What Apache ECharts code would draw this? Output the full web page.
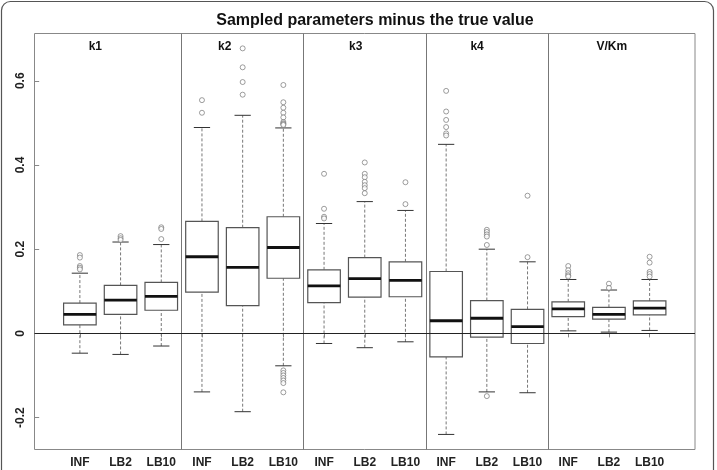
<!DOCTYPE html>
<html><head><meta charset="utf-8">
<script src="https://cdn.jsdelivr.net/npm/echarts@6/dist/echarts.min.js"></script>
<style>html,body{margin:0;padding:0;background:#fff}#c{width:717px;height:470px}</style>
</head><body><div id="c"></div>
<script>
const groups = ['k1', 'k2', 'k3', 'k4', 'V/Km'];
const methods = ['INF', 'LB2', 'LB10'];
const yTicks = [-0.2, 0, 0.2, 0.4, 0.6];
const lowWhisker  = [-0.047, -0.050, -0.030, -0.139, -0.186, -0.077, -0.024, -0.034, -0.020, -0.240, -0.139, -0.141, 0.006, 0.003, 0.007];
const q1          = [ 0.020,  0.045,  0.055,  0.098,  0.066,  0.131,  0.073,  0.086,  0.087, -0.056, -0.009, -0.024, 0.040, 0.034, 0.044];
const median      = [ 0.045,  0.079,  0.088,  0.182,  0.157,  0.204,  0.113,  0.130,  0.126,  0.030,  0.036,  0.016, 0.058, 0.045, 0.060];
const q3          = [ 0.072,  0.114,  0.121,  0.266,  0.251,  0.277,  0.151,  0.180,  0.170,  0.147,  0.078,  0.057, 0.075, 0.062, 0.077];
const highWhisker = [ 0.143,  0.217,  0.211,  0.489,  0.518,  0.488,  0.261,  0.313,  0.292,  0.449,  0.200,  0.170, 0.128, 0.103, 0.128];
const outliers = [
  [0.186, 0.180, 0.160, 0.156, 0.152],
  [0.231, 0.226, 0.222],
  [0.252, 0.248, 0.224],
  [0.554, 0.524],
  [0.677, 0.632, 0.597, 0.567],
  [0.590, 0.549, 0.536, 0.524, 0.513, 0.502, 0.499, 0.497, 0.495, -0.088, -0.094, -0.100, -0.106, -0.112, -0.118, -0.140],
  [0.379, 0.296, 0.277, 0.273],
  [0.406, 0.379, 0.371, 0.360, 0.352, 0.345, 0.333],
  [0.359, 0.307],
  [0.576, 0.527, 0.507, 0.490, 0.475, 0.470],
  [0.246, 0.241, 0.235, 0.230, 0.210, -0.149],
  [0.327, 0.181],
  [0.160, 0.150, 0.143, 0.138, 0.135],
  [0.118, 0.108],
  [0.182, 0.168, 0.146, 0.141, 0.135]
];

const FONT = 'Liberation Sans, Arial, sans-serif';
const positions = median.map((_, i) => i + 1);
const boxData = positions.map((p, i) => [p, lowWhisker[i], q1[i], median[i], q3[i], highWhisker[i]]);
const outlierData = [];
outliers.forEach((arr, i) => arr.forEach(v => outlierData.push([i + 1, v])));
const groupLabelX = [1.38, 4.56, 7.78, 10.76, 14.07];
const groupLabelData = groups.map((g, i) => [groupLabelX[i], 0.680, g]);
const separators = [3.5, 6.5, 9.5, 12.5];

const chart = echarts.init(document.getElementById('c'), null, {renderer: 'canvas'});
chart.setOption({
  animation: false,
  backgroundColor: '#fff',
  graphic: [
    {type: 'rect', shape: {x: 1.5, y: 1.5, width: 712, height: 490, r: 9}, style: {fill: 'none', stroke: '#555', lineWidth: 1.2}, z: 100},
    {type: 'text', x: 375, y: 21, style: {text: 'Sampled parameters minus the true value', font: 'bold 16px ' + FONT, fill: '#111', textAlign: 'center', textVerticalAlign: 'middle'}, z: 100}
  ],
  grid: {left: 34.5, right: 22, top: 33.5, bottom: 20.5, show: true, borderColor: '#888', borderWidth: 1, backgroundColor: '#fff'},
  xAxis: {
    type: 'value', min: -0.115, max: 16.115,
    axisLine: {show: false}, splitLine: {show: false},
    axisTick: {show: true, customValues: positions, length: 4, lineStyle: {color: '#888'}},
    axisLabel: {customValues: positions, formatter: v => methods[(Math.round(v) - 1) % 3], fontWeight: 'bold', fontSize: 12, fontFamily: FONT, color: '#222', margin: 7}
  },
  yAxis: {
    type: 'value', min: -0.2758, max: 0.7123,
    axisLine: {show: false}, splitLine: {show: false},
    axisTick: {show: true, customValues: yTicks, length: 5, lineStyle: {color: '#888'}},
    axisLabel: {customValues: yTicks, rotate: 90, formatter: v => (Math.abs(v) < 1e-9 ? '0' : String(Math.round(v * 10) / 10)), fontWeight: 'bold', fontSize: 12, fontFamily: FONT, color: '#222', margin: 8}
  },
  series: [
    {
      type: 'custom', name: 'box',
      encode: {x: 0, y: [1, 2, 3, 4, 5]},
      data: boxData,
      renderItem: function (params, api) {
        const x = api.value(0);
        const lo = api.coord([x, api.value(1)]);
        const a = api.coord([x, api.value(2)]);
        const m = api.coord([x, api.value(3)]);
        const b = api.coord([x, api.value(4)]);
        const hi = api.coord([x, api.value(5)]);
        const half = api.size([0.8, 0])[0] / 2;
        const cap = api.size([0.4, 0])[0] / 2;
        const cx = lo[0];
        const dash = {stroke: '#777', lineWidth: 1, lineDash: [3, 2]};
        const solid = {stroke: '#333', lineWidth: 1};
        return {type: 'group', children: [
          {type: 'line', shape: {x1: cx, y1: lo[1], x2: cx, y2: a[1]}, style: dash},
          {type: 'line', shape: {x1: cx, y1: b[1], x2: cx, y2: hi[1]}, style: dash},
          {type: 'line', shape: {x1: cx - cap, y1: lo[1], x2: cx + cap, y2: lo[1]}, style: solid},
          {type: 'line', shape: {x1: cx - cap, y1: hi[1], x2: cx + cap, y2: hi[1]}, style: solid},
          {type: 'rect', shape: {x: cx - half, y: b[1], width: half * 2, height: a[1] - b[1]}, style: {fill: '#fff', stroke: '#555', lineWidth: 1.2}},
          {type: 'line', shape: {x1: cx - half, y1: m[1], x2: cx + half, y2: m[1]}, style: {stroke: '#111', lineWidth: 2.8}}
        ]};
      }
    },
    {
      type: 'scatter', name: 'outliers',
      data: outlierData,
      symbol: 'circle', symbolSize: 5,
      itemStyle: {color: '#fff', borderColor: '#666', borderWidth: 0.8},
      markLine: {
        silent: true, symbol: ['none', 'none'], label: {show: false},
        lineStyle: {type: 'solid', color: '#777', width: 1},
        data: separators.map(s => ({xAxis: s})).concat([{yAxis: 0, lineStyle: {color: '#222', width: 1, type: 'solid'}}])
      }
    },
    {
      type: 'scatter', name: 'groups',
      data: groupLabelData, symbolSize: 0, silent: true,
      label: {show: true, position: 'inside', formatter: p => p.value[2], fontWeight: 'bold', fontSize: 12, fontFamily: FONT, color: '#111', textBorderWidth: 0, opacity: 1}
    }
  ]
});
</script>
</body></html>
